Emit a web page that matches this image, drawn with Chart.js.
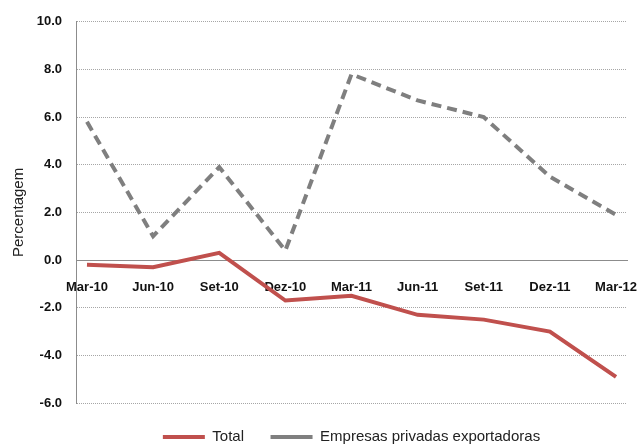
<!DOCTYPE html>
<html>
<head>
<meta charset="utf-8">
<script src="https://cdn.jsdelivr.net/npm/chart.js@4"></script>
<style>
  body { margin: 0; background: #fff; }
  #wrap { width: 638px; height: 446px; }
</style>
</head>
<body>
<div id="wrap"><canvas id="myChart" width="638" height="446"></canvas></div>
<script>
const cats = ["Mar-10", "Jun-10", "Set-10", "Dez-10", "Mar-11", "Jun-11", "Set-11", "Dez-11", "Mar-12"];
const total = [-0.2, -0.3, 0.3, -1.7, -1.5, -2.3, -2.5, -3.0, -4.9];
const exportadoras = [5.8, 1.0, 3.9, 0.4, 7.8, 6.7, 6.0, 3.5, 1.9];
const yTicks = [-6, -4, -2, 0, 2, 4, 6, 8, 10];

const font = "'Liberation Sans Narrow', 'Arial Narrow', 'Liberation Sans', sans-serif";
const ctx = document.getElementById('myChart');

new Chart(ctx, {
  type: 'line',
  data: {
    datasets: [{
      label: 'Total',
      data: total.map((v, i) => ({x: i, y: v})),
      borderColor: '#c0504d',
      borderWidth: 4,
      pointRadius: 0,
      pointStyle: 'line',
      tension: 0
    },
    {
      label: 'Empresas privadas exportadoras',
      data: exportadoras.map((v, i) => ({x: i, y: v})),
      borderColor: '#7f7f7f',
      borderWidth: 4,
      borderDash: [10, 6],
      pointRadius: 0,
      pointStyle: 'line',
      tension: 0
    }]
  },
  options: {
    responsive: false,
    animation: false,
    layout: { padding: { left: 10, right: 11, top: 14, bottom: -8.5 } },
    plugins: {
      tooltip: { enabled: false },
      legend: {
        position: 'bottom',
        fullSize: false,
        labels: {
          usePointStyle: true,
          pointStyleWidth: 42,
          boxHeight: 4,
          padding: 26.5,
          color: '#222',
          font: { family: font, size: 15 }
        }
      }
    },
    scales: {
      x: {
        type: 'linear',
        position: { y: 0 },
        min: -0.166,
        max: 8.166,
        afterBuildTicks: (s) => { s.ticks = cats.map((c, i) => ({value: i})); },
        afterFit: (s) => { s.paddingLeft = 0; s.paddingRight = 0; },
        grid: { display: false },
        border: { display: true, color: '#8c8c8c', width: 1 },
        ticks: {
          callback: (v) => cats[v],
          maxRotation: 0,
          autoSkip: false,
          padding: 12,
          color: '#111',
          font: { family: font, size: 13, weight: 'bold' }
        }
      },
      y: {
        min: -6,
        max: 10,
        afterBuildTicks: (s) => { s.ticks = yTicks.map(v => ({value: v})); },
        afterFit: (s) => { s.width = 66; },
        grid: { color: '#a6a6a6', lineWidth: 1, drawTicks: false },
        border: { display: true, color: '#8c8c8c', width: 1, dash: [1, 1] },
        title: {
          display: true,
          text: 'Percentagem',
          color: '#222',
          padding: 0,
          font: { family: font, size: 15 }
        },
        ticks: {
          callback: (v) => v.toFixed(1),
          padding: 14,
          color: '#111',
          font: { family: font, size: 13, weight: 'bold' }
        }
      }
    }
  }
});
</script>
</body>
</html>
